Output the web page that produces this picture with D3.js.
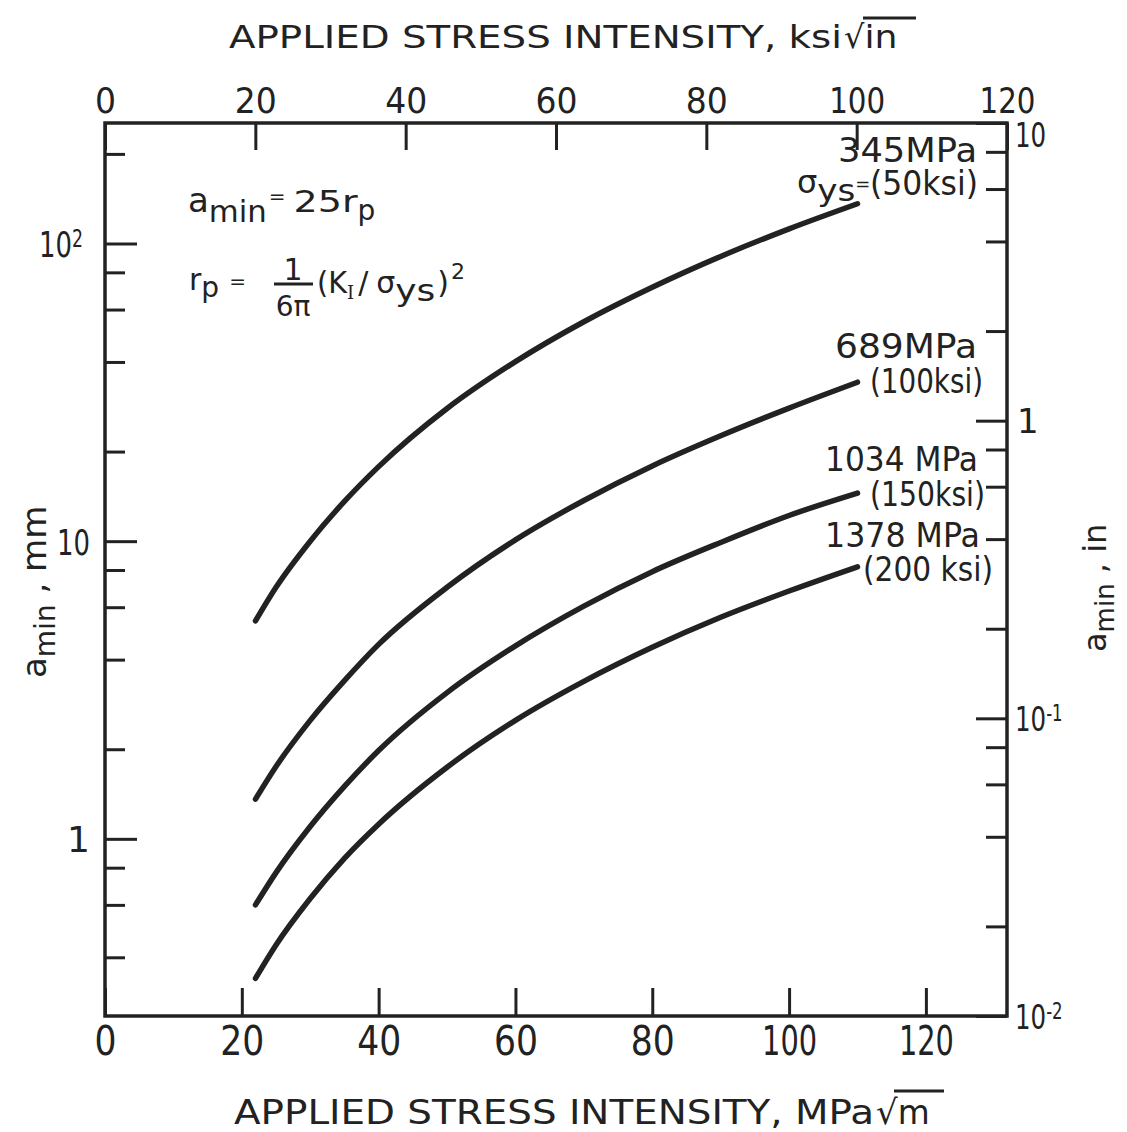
<!DOCTYPE html>
<html>
<head>
<meta charset="utf-8">
<script src="https://cdn.jsdelivr.net/npm/d3@7"></script>
<style>
  body { margin: 0; background: #fff; }
  text { font-family: "DejaVu Sans", "Noto Sans", sans-serif; fill: #222; }
</style>
</head>
<body>
<div id="plot"></div>
<script>
const kMPa = [22, 25, 30, 35, 40, 50, 60, 70, 80, 90, 100, 110];

// a_min in mm, one array per yield strength
const a345 = [5.4, 7.0, 10.0, 13.6, 17.8, 27.9, 40.1, 54.6, 71.3, 90.5, 112, 136];
const a689 = [1.36, 1.75, 2.5, 3.4, 4.5, 7.0, 10.1, 13.7, 17.9, 22.6, 28.0, 34.2];
const a1034 = [0.6, 0.77, 1.1, 1.5, 1.98, 3.1, 4.45, 6.05, 7.9, 9.9, 12.2, 14.5];
const a1378 = [0.34, 0.44, 0.63, 0.86, 1.12, 1.74, 2.5, 3.38, 4.4, 5.55, 6.8, 8.2];

const curveLabels = [
  ["345MPa", "(50ksi)"],
  ["689MPa", "(100ksi)"],
  ["1034 MPa", "(150ksi)"],
  ["1378 MPa", "(200 ksi)"]
];

// tick values
const bottomTicks = [0, 20, 40, 60, 80, 100, 120];
const topTicks = [0, 20, 40, 60, 80, 100, 120];
const leftMajor = [1, 10, 100];
const leftMinor = [0.4, 0.6, 0.8, 2, 4, 6, 8, 20, 40, 60, 80, 200];
const rightMajor = [0.01, 0.1, 1, 10];
const rightMinor = [0.02, 0.04, 0.06, 0.08, 0.2, 0.4, 0.6, 0.8, 2, 4, 6, 8];

const ink = "#222";
const W = 1127, H = 1132;
const frame = { left: 105, right: 1007, top: 123, bottom: 1016 };
const squeeze = 0.72; // narrow lettering for the side labels

const svg = d3.select("#plot")
  .append("svg")
  .attr("width", W)
  .attr("height", H)
  .style("background", "#fff");

// 1 ksi sqrt(in) = 1.0988 MPa sqrt(m); 1 in = 25.4 mm
const x = d3.scaleLinear().domain([0, 120 * 1.0988]).range([frame.left, frame.right]);
const xKsi = d3.scaleLinear().domain([0, 120]).range([frame.left, frame.right]);
const y = d3.scaleLog().domain([0.254, 254]).range([frame.bottom, frame.top]);
const yIn = d3.scaleLog().domain([0.01, 10]).range([frame.bottom, frame.top]);

function numWidth(s, one, digit) {
  return s.split("").reduce((a, c) => a + (c === "1" ? one : digit), 0);
}

function tidy(g) {
  g.select(".domain").remove();
  g.selectAll(".tick line").attr("stroke", ink).attr("stroke-width", 3);
}

// frame
svg.append("rect")
  .attr("x", frame.left)
  .attr("y", frame.top)
  .attr("width", frame.right - frame.left)
  .attr("height", frame.bottom - frame.top)
  .attr("fill", "none")
  .attr("stroke", ink)
  .attr("stroke-width", 3.5);

// bottom axis, MPa sqrt m
const gb = svg.append("g")
  .attr("transform", "translate(0," + frame.bottom + ")")
  .call(d3.axisBottom(x).tickValues(bottomTicks).tickSize(-28).tickPadding(11).tickFormat(d3.format("d")));
tidy(gb);
gb.selectAll(".tick text")
  .attr("font-size", 40)
  .attr("fill", ink)
  .attr("textLength", d => numWidth(String(d), 11, 22))
  .attr("lengthAdjust", "spacingAndGlyphs");

// top axis, ksi sqrt in
const gt = svg.append("g")
  .attr("transform", "translate(0," + frame.top + ")")
  .call(d3.axisTop(xKsi).tickValues(topTicks).tickSize(-27).tickPadding(10).tickFormat(d3.format("d")));
tidy(gt);
gt.selectAll(".tick text")
  .attr("font-size", 36)
  .attr("fill", ink)
  .attr("textLength", d => numWidth(String(d), 14, 21))
  .attr("lengthAdjust", "spacingAndGlyphs");

// left axis, mm
const gl = svg.append("g")
  .attr("transform", "translate(" + frame.left + ",0)")
  .call(d3.axisLeft(y).tickValues(leftMajor).tickSize(-32).tickPadding(17).tickFormat(""));
tidy(gl);
gl.selectAll(".tick text").each(function (d) {
  const t = d3.select(this)
    .attr("font-size", 36)
    .attr("fill", ink)
    .attr("dy", "0.36em");
  if (d === 1) {
    t.attr("text-anchor", "end").attr("x", -15).text("1");
    return;
  }
  t.attr("text-anchor", "start")
    .attr("transform", "scale(" + squeeze + ",1)")
    .attr("x", (d === 10 ? -48 : -66) / squeeze);
  t.append("tspan").text("10");
  if (d === 100) {
    t.append("tspan").attr("dy", "-0.42em").attr("font-size", 24).text("2");
  }
});

const glm = svg.append("g")
  .attr("transform", "translate(" + frame.left + ",0)")
  .call(d3.axisLeft(y).tickValues(leftMinor).tickSize(-20).tickFormat(""));
tidy(glm);

// right axis, inches
const gr = svg.append("g")
  .attr("transform", "translate(" + frame.right + ",0)")
  .call(d3.axisRight(yIn).tickValues(rightMajor).tickSize(-31).tickPadding(8).tickFormat(""));
tidy(gr);
gr.selectAll(".tick text").each(function (d) {
  const t = d3.select(this)
    .attr("font-size", 34)
    .attr("fill", ink)
    .attr("dy", d === 10 ? "0.7em" : "0.36em");
  if (d === 1) {
    t.attr("x", 10).text("1");
    return;
  }
  t.attr("transform", "scale(" + squeeze + ",1)")
    .attr("x", 8 / squeeze);
  t.append("tspan").text("10");
  if (d < 1) {
    t.append("tspan").attr("dy", "-0.42em").attr("font-size", 23)
      .text(d === 0.1 ? "-1" : "-2");
  }
});

const grm = svg.append("g")
  .attr("transform", "translate(" + frame.right + ",0)")
  .call(d3.axisRight(yIn).tickValues(rightMinor).tickSize(-21).tickFormat(""));
tidy(grm);

// curves
const series = [a345, a689, a1034, a1378];
const line = d3.line()
  .x(d => x(d.k))
  .y(d => y(d.a))
  .curve(d3.curveMonotoneX);

svg.append("g")
  .selectAll("path")
  .data(series)
  .enter()
  .append("path")
  .attr("d", s => line(kMPa.map((k, i) => ({ k: k, a: s[i] }))))
  .attr("fill", "none")
  .attr("stroke", ink)
  .attr("stroke-width", 5.5)
  .attr("stroke-linecap", "round");

// curve labels
const lab = svg.append("g").attr("font-size", 34);
const labPos = [
  { x1: 838, w1: 139, y1: 162, x2: 870, w2: 108, y2: 195 },
  { x1: 835, w1: 142, y1: 358, x2: 870, w2: 113, y2: 393 },
  { x1: 825, w1: 153, y1: 471, x2: 870, w2: 115, y2: 506 },
  { x1: 825, w1: 155, y1: 547, x2: 863, w2: 130, y2: 581 }
];
curveLabels.forEach((t, i) => {
  const p = labPos[i];
  lab.append("text").attr("x", p.x1).attr("y", p.y1)
    .attr("textLength", p.w1).attr("lengthAdjust", "spacingAndGlyphs").text(t[0]);
  lab.append("text").attr("x", p.x2).attr("y", p.y2)
    .attr("textLength", p.w2).attr("lengthAdjust", "spacingAndGlyphs").text(t[1]);
});
// sigma_ys = in front of the 50 ksi label
const sg = lab.append("text").attr("x", 797).attr("y", 193).attr("font-size", 32);
sg.append("tspan").text("σ");
sg.append("tspan").attr("dy", 8).attr("font-size", 30)
  .attr("textLength", 38).attr("lengthAdjust", "spacingAndGlyphs").text("ys");
sg.append("tspan").attr("dy", -11).attr("font-size", 18).text("=");

// formula block
const f1 = svg.append("text").attr("x", 188).attr("y", 212).attr("font-size", 34);
f1.append("tspan").text("a");
f1.append("tspan").attr("dy", 10).attr("font-size", 30)
  .attr("textLength", 58).attr("lengthAdjust", "spacingAndGlyphs").text("min");
f1.append("tspan").attr("dy", -19).attr("dx", 2).attr("font-size", 20).text("=");
f1.append("tspan").attr("dy", 9).attr("dx", 8).attr("font-size", 30)
  .attr("textLength", 64).attr("lengthAdjust", "spacingAndGlyphs").text("25r");
f1.append("tspan").attr("dy", 8).attr("font-size", 28).text("p");

const f2 = svg.append("text").attr("x", 189).attr("y", 290).attr("font-size", 30);
f2.append("tspan").text("r");
f2.append("tspan").attr("dy", 7).attr("font-size", 28).text("p");
f2.append("tspan").attr("dy", -9).attr("dx", 10).attr("font-size", 20).text("=");

svg.append("text").attr("x", 293).attr("y", 280).attr("font-size", 30)
  .attr("text-anchor", "middle").text("1");
svg.append("line").attr("x1", 274).attr("x2", 313).attr("y1", 284).attr("y2", 284)
  .attr("stroke", ink).attr("stroke-width", 3);
svg.append("text").attr("x", 293).attr("y", 316).attr("font-size", 28)
  .attr("text-anchor", "middle").text("6π");

const f3 = svg.append("text").attr("x", 317).attr("y", 293).attr("font-size", 30);
f3.append("tspan").attr("textLength", 30).attr("lengthAdjust", "spacingAndGlyphs").text("(K");
f3.append("tspan").attr("dy", 6).attr("font-size", 18)
  .style("font-family", "'DejaVu Serif', serif").text("I");
f3.append("tspan").attr("dy", -6).attr("dx", 4).text("/");
f3.append("tspan").attr("dx", 8).text("σ");
f3.append("tspan").attr("dy", 8).attr("textLength", 40).attr("lengthAdjust", "spacingAndGlyphs").text("ys");
f3.append("tspan").attr("dy", -8).attr("dx", 2).text(")");
f3.append("tspan").attr("dy", -14).attr("dx", 2).attr("font-size", 22).text("2");

// axis titles
const tt = svg.append("text").attr("x", 229).attr("y", 48).attr("font-size", 32);
tt.append("tspan").attr("textLength", 613).attr("lengthAdjust", "spacingAndGlyphs")
  .text("APPLIED STRESS INTENSITY, ksi");
tt.append("tspan").attr("dx", 2).text("√");
tt.append("tspan").attr("textLength", 33).attr("lengthAdjust", "spacingAndGlyphs").text("in");
svg.append("line").attr("x1", 863).attr("x2", 916).attr("y1", 18).attr("y2", 18)
  .attr("stroke", ink).attr("stroke-width", 3);

const bt = svg.append("text").attr("x", 234).attr("y", 1124).attr("font-size", 34);
bt.append("tspan").attr("textLength", 640).attr("lengthAdjust", "spacingAndGlyphs")
  .text("APPLIED STRESS INTENSITY, MPa");
bt.append("tspan").attr("dx", 2).text("√");
bt.append("tspan").attr("textLength", 32).attr("lengthAdjust", "spacingAndGlyphs").text("m");
svg.append("line").attr("x1", 894).attr("x2", 944).attr("y1", 1091).attr("y2", 1091)
  .attr("stroke", ink).attr("stroke-width", 3);

// rotated y titles
const yl = svg.append("text")
  .attr("transform", "translate(46,678) rotate(-90)")
  .attr("font-size", 34);
yl.append("tspan").text("a");
yl.append("tspan").attr("dy", 9).attr("font-size", 28).text("min");
yl.append("tspan").attr("dy", -9).text(" , mm");

const yr = svg.append("text")
  .attr("transform", "translate(1106,652) rotate(-90)")
  .attr("font-size", 32);
yr.append("tspan").text("a");
yr.append("tspan").attr("dy", 8).attr("font-size", 26).text("min");
yr.append("tspan").attr("dy", -8).text(" , in");
</script>
</body>
</html>
